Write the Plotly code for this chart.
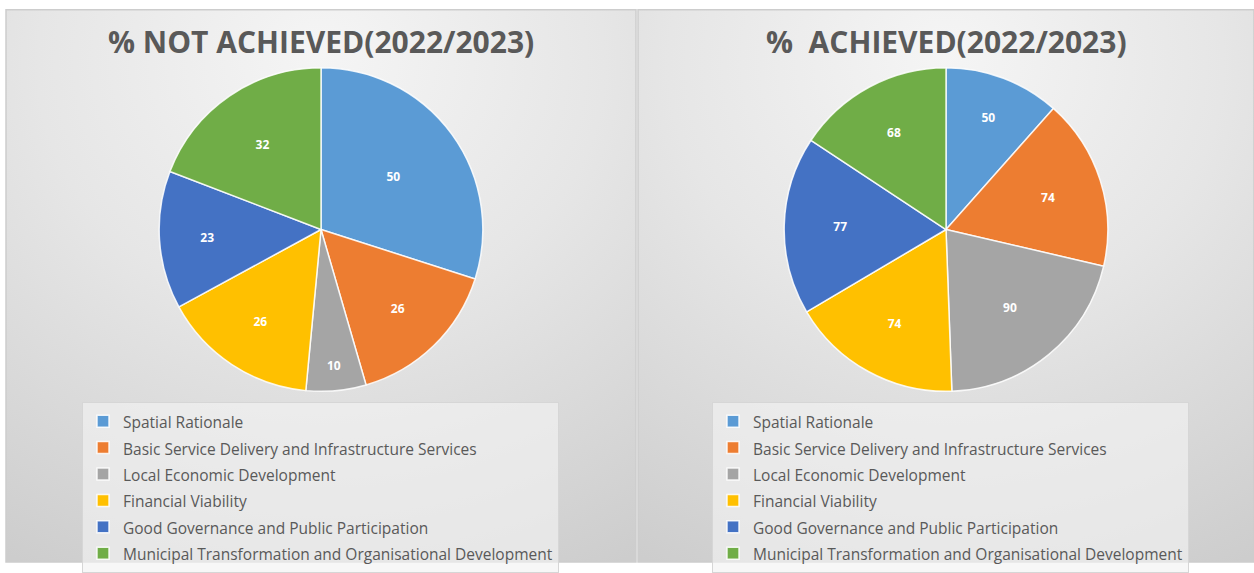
import base64
import plotly.graph_objects as go

# KPA performance split for 2022/2023
categories = [
    "Spatial Rationale",
    "Basic Service Delivery and Infrastructure Services",
    "Local Economic Development",
    "Financial Viability",
    "Good Governance and Public Participation",
    "Municipal Transformation and Organisational Development",
]
not_achieved = [50, 26, 10, 26, 23, 32]
achieved = [50, 74, 90, 74, 77, 68]
slice_colors = ["#5B9BD5", "#ED7D31", "#A5A5A5", "#FFC000", "#4472C4", "#70AD47"]

titles = ["% NOT ACHIEVED(2022/2023)", "%\u00a0 ACHIEVED(2022/2023)"]

W, H = 1254, 573


def px_x(v):
    return v / W


def px_y(v):
    return 1 - v / H


def panel_background(w, h):
    svg = (
        f"<svg xmlns='http://www.w3.org/2000/svg' width='{w}' height='{h}' "
        f"viewBox='0 0 {w} {h}' preserveAspectRatio='none'>"
        "<defs><radialGradient id='g' cx='50%' cy='12%' r='100%' fx='50%' fy='8%'>"
        "<stop offset='0' stop-color='#f5f5f5'/>"
        "<stop offset='0.45' stop-color='#e6e6e6'/>"
        "<stop offset='1' stop-color='#cdcdcd'/>"
        "</radialGradient></defs>"
        f"<rect width='{w}' height='{h}' fill='url(#g)'/></svg>"
    )
    return "data:image/svg+xml;base64," + base64.b64encode(svg.encode()).decode()


# legend entries: taller legend rows, normal sized text
legend_labels = [f"<span style='font-size:15.5px'>{c}</span>" for c in categories]

panels = [
    dict(left=6, right=636, cx=321, values=not_achieved, legend="legend", group="not_achieved", lx=82),
    dict(left=638, right=1254, cx=946, values=achieved, legend="legend2", group="achieved", lx=712),
]

fig = go.Figure()
radius = 165
cy = 234
for p in panels:
    fig.add_trace(
        go.Pie(
            labels=legend_labels,
            values=p["values"],
            sort=False,
            direction="clockwise",
            rotation=0,
            marker=dict(colors=slice_colors, line=dict(color="rgba(255,255,255,0.85)", width=1.5)),
            textinfo="value",
            textposition="inside",
            insidetextorientation="horizontal",
            textfont=dict(color="white", size=12, family="Open Sans", weight="bold"),
            domain=dict(
                x=[px_x(p["cx"] - radius), px_x(p["cx"] + radius)],
                y=[px_y(cy + radius), px_y(cy - radius)],
            ),
            legend=p["legend"],
            legendgroup=p["group"],
            showlegend=True,
            hoverinfo="value+percent",
        )
    )

images = []
shapes = []
for p in panels:
    images.append(
        dict(
            source=panel_background(p["right"] - p["left"], H - 10),
            xref="paper", yref="paper",
            x=px_x(p["left"]), y=px_y(10),
            sizex=(p["right"] - p["left"]) / W, sizey=(H - 10) / H,
            xanchor="left", yanchor="top",
            sizing="stretch", layer="below",
        )
    )
    shapes.append(
        dict(
            type="rect", xref="paper", yref="paper",
            x0=px_x(p["left"]), x1=px_x(p["right"]),
            y0=0, y1=px_y(10),
            line=dict(color="#cdcdcd", width=1.5),
            fillcolor="rgba(0,0,0,0)", layer="below",
        )
    )

annotations = []
for p, t in zip(panels, titles):
    annotations.append(
        dict(
            text=t, x=px_x(p["cx"]), y=px_y(42),
            xref="paper", yref="paper",
            xanchor="center", yanchor="middle", showarrow=False,
            font=dict(family="Open Sans", size=30, color="#595959", weight="bold"),
        )
    )

legend_style = dict(
    orientation="v",
    xanchor="left", yanchor="top",
    bgcolor="rgba(243,243,243,0.65)",
    bordercolor="#d6d6d6", borderwidth=1,
    font=dict(family="Open Sans", size=18, color="#595959"),
    itemclick=False, itemdoubleclick=False,
)

fig.update_layout(
    width=W, height=H,
    margin=dict(l=0, r=0, t=0, b=0),
    paper_bgcolor="white",
    plot_bgcolor="white",
    images=images,
    shapes=shapes,
    annotations=annotations,
    legend=dict(x=px_x(panels[0]["lx"]), y=px_y(410), **legend_style),
    legend2=dict(x=px_x(panels[1]["lx"]), y=px_y(410), **legend_style),
)

fig.write_html("out.html")
